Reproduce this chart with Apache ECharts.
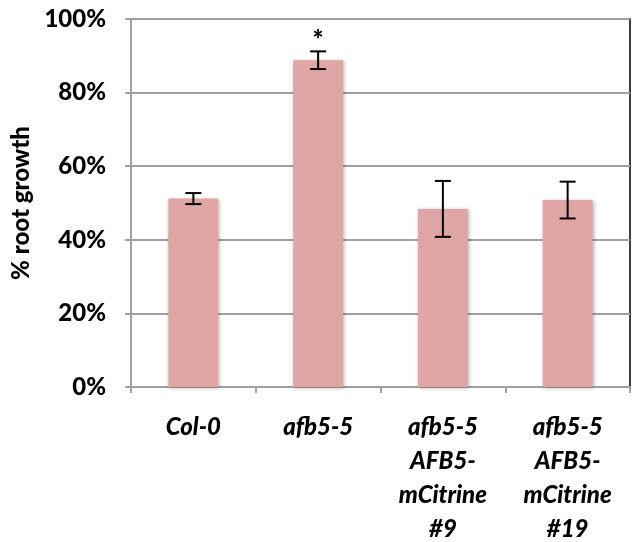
<!DOCTYPE html>
<html>
<head>
<meta charset="utf-8">
<script src="https://cdn.jsdelivr.net/npm/echarts@6/dist/echarts.min.js"></script>
<style>html,body{margin:0;padding:0;background:#fff}#c{width:637px;height:542px}</style>
</head>
<body>
<div id="c"></div>
<script>
var categories = ['Col-0', 'afb5-5', 'afb5-5\nAFB5-\nmCitrine\n#9', 'afb5-5\nAFB5-\nmCitrine\n#19'];
var values = [51.2, 88.8, 48.4, 50.8];
var errors = [1.5, 2.4, 7.6, 5.0];
var significance = ['', '*', '', ''];
var yTicks = [0, 20, 40, 60, 80, 100];

var chart = echarts.init(document.getElementById('c'));
var FONT = 'Lato, "Liberation Sans", sans-serif';
chart.setOption({
  animation: false,
  backgroundColor: '#fff',
  grid: { left: 131, right: 7, top: 19, bottom: 155, outerBoundsMode: 'none', containLabel: false, show: true, borderColor: '#000', borderWidth: 1.5, backgroundColor: 'transparent' },
  xAxis: {
    type: 'category',
    data: categories,
    axisLine: { lineStyle: { color: '#a0a0a0', width: 2 } },
    axisTick: { show: true, length: 6, lineStyle: { color: '#a0a0a0', width: 2 } },
    axisLabel: { color: '#000', fontFamily: FONT, fontSize: 24, fontWeight: 900, fontStyle: 'italic', lineHeight: 34, margin: 23, interval: 0 }
  },
  yAxis: {
    type: 'value', min: 0, max: 100, interval: 20,
    name: '% root growth', nameLocation: 'middle', nameGap: 96, nameRotate: 90,
    nameTextStyle: { color: '#000', fontFamily: FONT, fontSize: 24, fontWeight: 900 },
    axisLine: { show: true, lineStyle: { color: '#a0a0a0', width: 2 } },
    axisTick: { show: true, length: 6, lineStyle: { color: '#a0a0a0', width: 2 } },
    splitLine: { lineStyle: { color: '#a0a0a0', width: 2 } },
    axisLabel: { color: '#000', fontFamily: FONT, fontSize: 24, fontWeight: 900, margin: 25,
      formatter: function (v) { return yTicks.indexOf(v) >= 0 ? v + '%' : ''; } }
  },
  series: [
    {
      type: 'bar', data: values, barWidth: '40%',
      itemStyle: { color: '#e0a6a5', shadowColor: 'rgba(0,0,0,0.3)', shadowBlur: 4, shadowOffsetX: 1, shadowOffsetY: 1 }
    },
    {
      type: 'custom', z: 10,
      data: values.map(function (v, i) { return [i, v - errors[i], v + errors[i], significance[i]]; }),
      renderItem: function (params, api) {
        var i = api.value(0);
        var lo = api.coord([i, api.value(1)]);
        var hi = api.coord([i, api.value(2)]);
        var hw = 8;
        var st = { stroke: '#000', lineWidth: 2 };
        var children = [
          { type: 'line', shape: { x1: lo[0], y1: lo[1], x2: hi[0], y2: hi[1] }, style: st },
          { type: 'line', shape: { x1: lo[0] - hw, y1: lo[1], x2: lo[0] + hw, y2: lo[1] }, style: st },
          { type: 'line', shape: { x1: hi[0] - hw, y1: hi[1], x2: hi[0] + hw, y2: hi[1] }, style: st }
        ];
        var s = significance[i];
        if (s) {
          children.push({ type: 'text', style: { text: s, x: hi[0], y: hi[1] + 2, align: 'center', verticalAlign: 'bottom', fill: '#000', font: '900 26px ' + FONT } });
        }
        return { type: 'group', children: children };
      }
    }
  ]
});
</script>
</body>
</html>
